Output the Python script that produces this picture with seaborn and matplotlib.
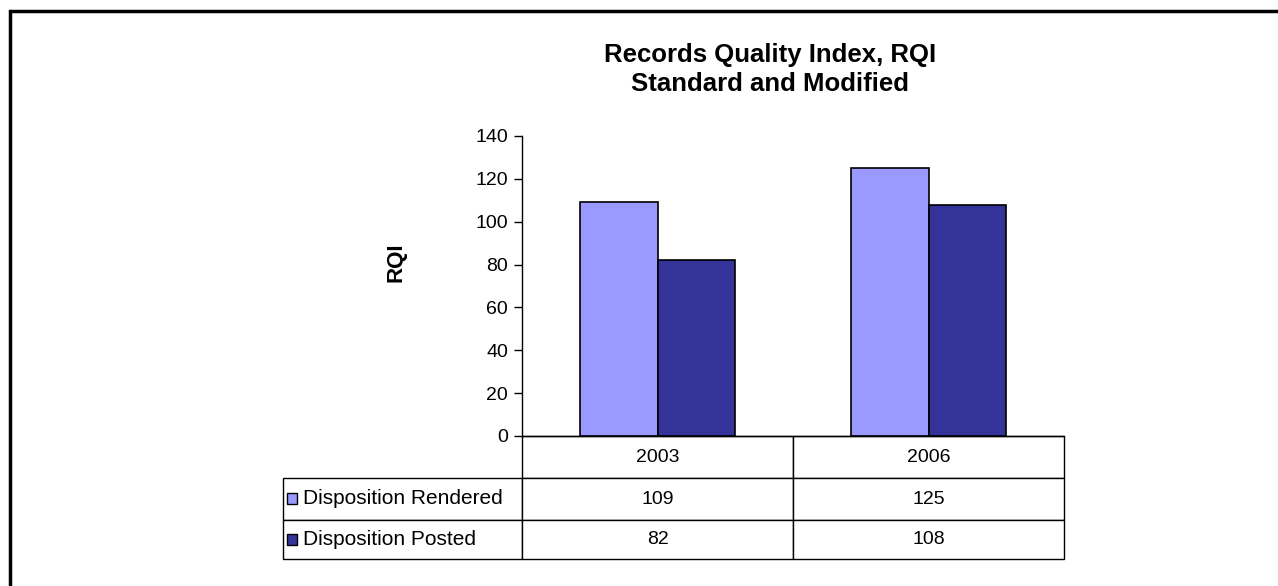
import seaborn as sns
import matplotlib.pyplot as plt
import pandas as pd
from matplotlib.patches import Rectangle
from matplotlib.table import Table

# data
years = ['2003', '2006']
series = ['Disposition Rendered', 'Disposition Posted']
rendered = [109, 125]
posted = [82, 108]
colors = ['#9999FF', '#333399']

df = pd.DataFrame({
    'year': years * 2,
    'series': [series[0]] * len(years) + [series[1]] * len(years),
    'rqi': rendered + posted,
})

sns.set_style('white')
plt.rcParams['font.family'] = ['Liberation Sans', 'DejaVu Sans']
plt.rcParams['text.color'] = 'black'
plt.rcParams['ytick.color'] = 'black'
plt.rcParams['ytick.labelcolor'] = 'black'

W, H = 1278, 586
fig = plt.figure(figsize=(W / 100, H / 100), dpi=100)

# axes frame in pixels (left, top, right, bottom)
ax_l, ax_t, ax_r, ax_b = 522, 136, 1064, 436
ax = fig.add_axes([ax_l / W, 1 - ax_b / H, (ax_r - ax_l) / W, (ax_b - ax_t) / H])

sns.barplot(data=df, x='year', y='rqi', hue='series', palette=colors,
            saturation=1, width=0.575, gap=0, edgecolor='black',
            linewidth=1.2, legend=False, ax=ax)

ax.set_xlim(-0.5, len(years) - 0.5)
ax.set_ylim(0, 140)
ax.set_yticks(range(0, 141, 20))
ax.set_xticks([])
ax.set_xlabel('')
ax.set_ylabel('')
ax.tick_params(axis='y', left=True, length=6, width=1, color='black',
               labelcolor='black', labelsize=14, pad=4)
for s in ['top', 'right']:
    ax.spines[s].set_visible(False)
for s in ['left', 'bottom']:
    ax.spines[s].set_color('black')
    ax.spines[s].set_linewidth(1)

# data table under the axes
tab_l = 283
label_w = ax_l - tab_l
col_w = (ax_r - ax_l) / len(years)
row_h = [42, 42, 39]
tab_h = sum(row_h)
ax_w_px = ax_r - ax_l
ax_h_px = ax_b - ax_t

table = Table(ax, bbox=[(tab_l - ax_l) / ax_w_px, -tab_h / ax_h_px,
                        (ax_r - tab_l) / ax_w_px, tab_h / ax_h_px])
corner = table.add_cell(0, 0, width=label_w, height=row_h[0], text='')
corner.visible_edges = ''
for j, y in enumerate(years):
    table.add_cell(0, j + 1, width=col_w, height=row_h[0], text=y, loc='center')
values = [rendered, posted]
label_cells = []
for i, name in enumerate(series):
    c = table.add_cell(i + 1, 0, width=label_w, height=row_h[i + 1],
                       text=name, loc='left')
    c.PAD = 0.085
    label_cells.append(c)
    for j in range(len(years)):
        table.add_cell(i + 1, j + 1, width=col_w, height=row_h[i + 1],
                       text=str(values[i][j]), loc='center')
table.auto_set_font_size(False)
table.set_fontsize(14)
for cell in table.get_celld().values():
    cell.set_linewidth(1)
    cell.set_edgecolor('black')
    cell.get_text().set_color('black')
for c in label_cells:
    c.get_text().set_fontsize(15)
ax.add_table(table)

# legend keys inside the row label cells
y0 = ax_b + row_h[0]
for i, col in enumerate(colors):
    cy = y0 + row_h[i + 1] / 2
    fig.patches.append(Rectangle(((tab_l + 4) / W, 1 - (cy + 5) / H), 10 / W, 11 / H,
                                 transform=fig.transFigure, facecolor=col,
                                 edgecolor='black', linewidth=1))
    y0 += row_h[i + 1]

# titles and y label
fig.text(770 / W, 1 - 62 / H, 'Records Quality Index, RQI', ha='center',
         va='baseline', fontsize=18.5, fontweight='bold')
fig.text(770 / W, 1 - 91 / H, 'Standard and Modified', ha='center',
         va='baseline', fontsize=18.5, fontweight='bold')
fig.text(396 / W, 1 - 262 / H, 'RQI', rotation=90, ha='center', va='center',
         fontsize=16, fontweight='bold')

# outer frame
fig.patches.append(Rectangle((10 / W, -0.1), 1.2, 1.1 - 11 / H,
                             transform=fig.transFigure, fill=False,
                             edgecolor='black', linewidth=2.5))

fig.savefig('out.png', dpi=100)
